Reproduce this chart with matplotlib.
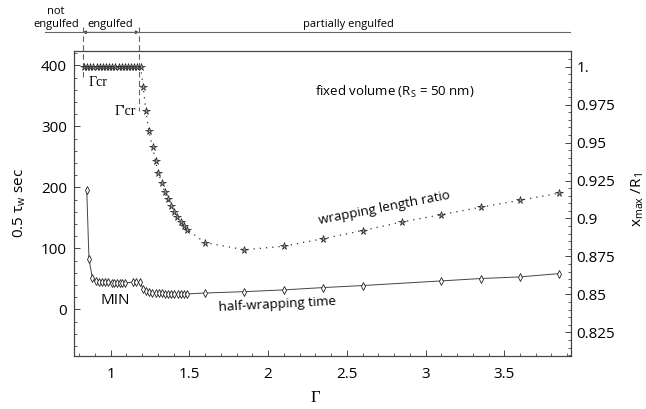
import matplotlib

matplotlib.use("Agg")

import matplotlib.pyplot as plt
import matplotlib.transforms as mtransforms
from matplotlib.ticker import MultipleLocator

# half-wrapping time (left axis, 0.5 tau_w sec), diamonds
gamma_t = [0.848, 0.862, 0.883, 0.905, 0.925, 0.945, 0.965, 0.985,
           1.006, 1.023, 1.040, 1.057, 1.074, 1.091, 1.142, 1.164, 1.186,
           1.205, 1.225, 1.245, 1.265, 1.285, 1.305, 1.325, 1.345, 1.365,
           1.385, 1.405, 1.425, 1.445, 1.465, 1.485,
           1.6, 1.85, 2.1, 2.35, 2.6, 3.1, 3.35, 3.6, 3.85]
time_t = [195, 83, 52, 46, 45.5, 45.5, 45.5, 45.5,
          43.5, 43.5, 43.5, 43.5, 43.5, 43.5, 44.5, 44.5, 44.5,
          34, 30, 28, 27, 26.5, 26, 26, 25.8, 25.6,
          25.5, 25.5, 25.4, 25.4, 25.3, 25.3,
          26.8, 29, 31.9, 35.7, 39, 46.6, 50.5, 53.2, 58.6]

# wrapping length ratio (right axis, x_max/R_1), stars
gamma_w = [0.83, 0.85, 0.87, 0.89, 0.91, 0.93, 0.95, 0.97, 0.99, 1.01,
           1.03, 1.05, 1.07, 1.09, 1.11, 1.13, 1.15, 1.17, 1.19,
           1.207, 1.224, 1.243, 1.266, 1.285, 1.302, 1.324, 1.342, 1.361,
           1.383, 1.403, 1.423, 1.445, 1.466, 1.487,
           1.6, 1.85, 2.1, 2.35, 2.6, 2.85, 3.1, 3.35, 3.6, 3.85]
ratio_w = [1.0] * 19 + [0.9863, 0.9705, 0.9574, 0.9469, 0.9377, 0.9301,
                        0.9235, 0.9177, 0.9125, 0.9081, 0.9042, 0.9007,
                        0.8978, 0.8950, 0.8925,
                        0.8841, 0.8794, 0.8817, 0.8867, 0.8920, 0.8977,
                        0.9025, 0.9074, 0.9120, 0.9167]

left_ticks = [0, 100, 200, 300, 400]
right_ticks = [0.825, 0.85, 0.875, 0.9, 0.925, 0.95, 0.975, 1.0]
right_labels = ["0.825", "0.85", "0.875", "0.9", "0.925", "0.95", "0.975", "1."]
x_ticks = [1, 1.5, 2, 2.5, 3, 3.5]
x_labels = ["1", "1.5", "2", "2.5", "3", "3.5"]

gamma_cr = 0.822
gamma_cr2 = 1.18

plt.rcParams["font.family"] = ["Open Sans", "DejaVu Sans"]
plt.rcParams["mathtext.fontset"] = "custom"
plt.rcParams["mathtext.rm"] = "Open Sans"
plt.rcParams["mathtext.it"] = "Open Sans"

W, H = 646, 409
fig = plt.figure(figsize=(W / 100, H / 100), dpi=100)
ax = fig.add_axes([74 / W, 1 - 355.7 / H, 497 / W, 305 / H])
ax2 = ax.twinx()

line_c = "#333333"

ax.plot(gamma_t, time_t, color="#444444", lw=0.7, marker="d", ms=3.6,
        mfc="white", mec="#222222", mew=0.6, zorder=3)
ax2.plot(gamma_w, ratio_w, color=line_c, lw=0.9, ls=(0, (1, 4)), marker="*",
         ms=5.5, mfc="#999999", mec="#222222", mew=0.5, zorder=3)

ax.set_xlim(0.767, 3.924)
ax.set_ylim(-76, 424)
ax2.set_ylim(0.8096, 1.0105)

ax.set_xticks(x_ticks, x_labels)
ax.set_yticks(left_ticks)
ax2.set_yticks(right_ticks, right_labels)
ax.xaxis.set_minor_locator(MultipleLocator(0.1))
ax.yaxis.set_minor_locator(MultipleLocator(20))
ax2.yaxis.set_minor_locator(MultipleLocator(0.005))

for a in (ax, ax2):
    for s in a.spines.values():
        s.set_color("#444444")
        s.set_linewidth(0.8)
ax.tick_params(axis="both", which="both", direction="in", colors="#444444",
               labelcolor="black", labelsize=11, top=False, right=False)
ax.tick_params(which="major", length=4, width=0.7)
ax.tick_params(which="minor", length=2, width=0.6)
ax.tick_params(axis="x", pad=8)
ax.tick_params(axis="y", pad=5)
ax2.tick_params(axis="y", which="both", direction="in", colors="#444444",
                labelcolor="black", labelsize=11, pad=4)
ax2.tick_params(which="major", length=4, width=0.7)
ax2.tick_params(which="minor", length=2, width=0.6)

# axis labels
ax.set_xlabel("Γ", fontsize=12, family=["Liberation Serif"], va="center")
ax.xaxis.set_label_coords(0.485, -0.138)
fig.text(20 / W, 1 - 203 / H, "0.5 τ$_\\mathrm{w}$ sec", rotation=90,
         ha="center", va="center", fontsize=11)
fig.text(638 / W, 1 - 200 / H, "x$_\\mathrm{max}$ /R$_\\mathrm{1}$", rotation=90,
         ha="center", va="center", fontsize=11)

# annotations inside the plot
ax.text(1.027, 14, "MIN", fontsize=11, ha="center", va="center")
ax.text(2.058, 7.4, "half-wrapping time", fontsize=9.5, ha="center",
        va="center", rotation=3)
ax.text(2.737, 166, "wrapping length ratio", fontsize=9.5, ha="center",
        va="center", rotation=11)
ax.text(2.30, 356, "fixed volume (R$_\\mathrm{S}$ = 50 nm)", fontsize=9.5,
        ha="left", va="center")

# regime markers above the plot
blend = mtransforms.blended_transform_factory(ax.transData, fig.transFigure)
y_top = 1 - 27 / H
for gx, y_end in ((gamma_cr, 77), (gamma_cr2, 111)):
    ax.plot([gx, gx], [y_top, 1 - y_end / H], transform=blend, clip_on=False,
            color="#666666", lw=0.8, ls=(0, (5, 3)))
y_line = 1 - 32.3 / H
fig.add_artist(plt.Line2D([45 / W, 570 / W], [y_line, y_line],
                          transform=fig.transFigure, color="#666666", lw=0.8))
ax.annotate("", xy=(gamma_cr, y_line), xytext=(gamma_cr2, y_line),
            xycoords=blend, textcoords=blend,
            arrowprops=dict(arrowstyle="<|-|>", mutation_scale=5, lw=0.6,
                            color="#333333", shrinkA=0, shrinkB=0))
fig.text(56 / W, 1 - 12 / H, "not", ha="center", va="center", fontsize=8)
fig.text(56 / W, 1 - 24 / H, "engulfed", ha="center", va="center", fontsize=8)
fig.text(110 / W, 1 - 24 / H, "engulfed", ha="center", va="center", fontsize=8)
fig.text(348 / W, 1 - 24 / H, "partially engulfed", ha="center", va="center",
         fontsize=8)

fig.text(98 / W, 1 - 83 / H, "Γcr", ha="center", va="center", fontsize=10,
         family=["Liberation Serif"])
fig.text(125 / W, 1 - 112 / H, "Γ'cr", ha="center", va="center", fontsize=10,
         family=["Liberation Serif"])

fig.savefig("out.png", dpi=100)
